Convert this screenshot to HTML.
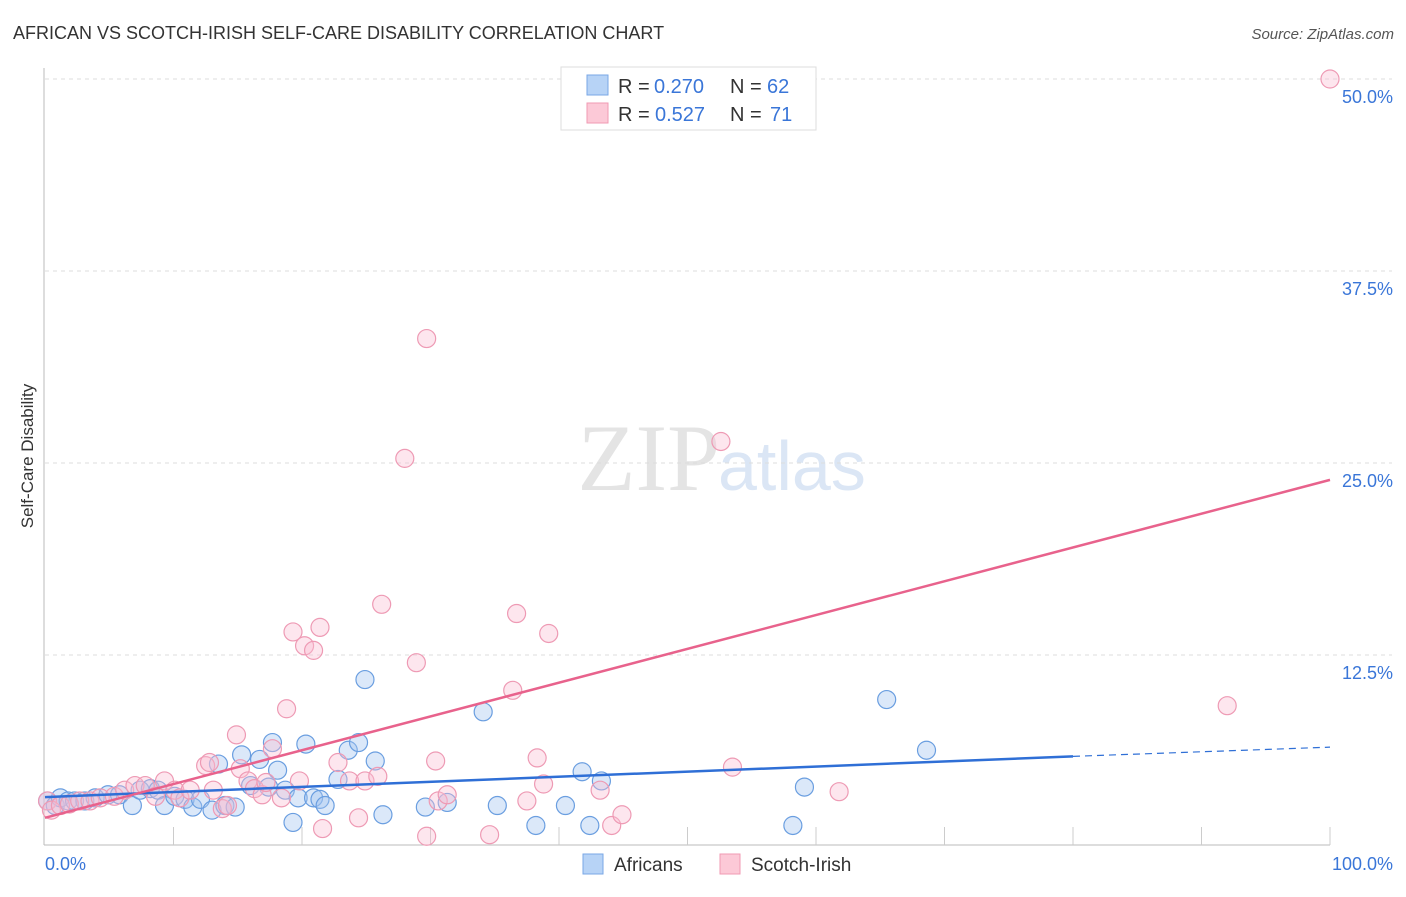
<!DOCTYPE html>
<html><head><meta charset="utf-8"><style>
body{margin:0;background:#fff;font-family:"Liberation Sans",sans-serif;}
svg text{font-family:"Liberation Sans",sans-serif;}
</style></head><body>
<svg id="chart" width="1406" height="892" xmlns="http://www.w3.org/2000/svg">
<text x="13" y="39" font-size="18" fill="#333">AFRICAN VS SCOTCH-IRISH SELF-CARE DISABILITY CORRELATION CHART</text>
<text x="1394" y="39" font-size="15" fill="#555" font-style="italic" text-anchor="end">Source: ZipAtlas.com</text>
<text x="33" y="456" font-size="17" fill="#333" text-anchor="middle" transform="rotate(-90 33 456)">Self-Care Disability</text>
<text x="720" y="490" font-size="95" fill="#e4e4e4" text-anchor="end" style="font-family:'Liberation Serif',serif">ZIP</text>
<text x="718" y="490" font-size="70" fill="#dbe6f5">atlas</text>
<g id="grid"></g><g id="axes"></g><g id="pts"></g><g id="lines"></g>
<g>
<rect x="561" y="67" width="255" height="63" fill="#fff" stroke="#ddd"/>
<rect x="587" y="75" width="21" height="20" fill="#b7d3f6" stroke="#7aa7e6"/>
<rect x="587" y="103" width="21" height="20" fill="#fcc9d7" stroke="#f09ab3"/>
<text x="618" y="93" font-size="20" fill="#333">R =</text>
<text x="654" y="93" font-size="20" fill="#3a76d8">0.270</text>
<text x="730" y="93" font-size="20" fill="#333">N =</text>
<text x="767" y="93" font-size="20" fill="#3a76d8">62</text>
<text x="618" y="121" font-size="20" fill="#333">R =</text>
<text x="655" y="121" font-size="20" fill="#3a76d8">0.527</text>
<text x="730" y="121" font-size="20" fill="#333">N =</text>
<text x="770" y="121" font-size="20" fill="#3a76d8">71</text>
</g>
<g>
<rect x="583" y="854" width="20" height="20" fill="#b7d3f6" stroke="#7aa7e6"/>
<text x="614" y="871" font-size="19" fill="#333">Africans</text>
<rect x="720" y="854" width="20" height="20" fill="#fcc9d7" stroke="#f09ab3"/>
<text x="751" y="871" font-size="19" fill="#333">Scotch-Irish</text>
</g>
</svg>
<script>
const yTicks=[12.5,25.0,37.5,50.0];
const xTickLabels=["0.0%","100.0%"];
const africansX=[0.2,0.8,1.2,1.8,2.3,3.1,3.9,4.9,5.8,6.8,7.4,8.2,8.8,9.3,10.1,10.9,11.5,12.1,13.0,13.5,14.0,14.8,15.3,16.0,16.7,17.4,17.7,18.1,18.7,19.3,19.7,20.3,20.9,21.4,21.8,22.8,23.6,24.4,24.9,25.7,26.3,29.6,31.3,34.1,35.2,38.2,40.5,41.8,42.4,43.3,58.2,59.1,65.5,68.6];
const africansY=[3.0,2.7,3.2,3.0,3.0,3.0,3.2,3.4,3.4,2.7,3.7,3.8,3.7,2.7,3.3,3.1,2.6,3.1,2.4,5.4,2.7,2.6,6.0,4.0,5.7,3.9,6.8,5.0,3.7,1.6,3.2,6.7,3.2,3.1,2.7,4.4,6.3,6.8,10.9,5.6,2.1,2.6,2.9,8.8,2.7,1.4,2.7,4.9,1.4,4.3,1.4,3.9,9.6,6.3];
const scotchX=[0.2,0.5,1.2,1.9,2.7,3.5,4.3,5.4,6.2,7.0,7.8,8.6,9.3,10.1,10.5,11.3,12.5,12.8,13.1,13.8,14.2,14.9,15.2,15.8,16.3,16.9,17.2,17.7,18.4,18.8,19.3,19.8,20.2,20.9,21.4,21.6,22.8,23.7,24.4,24.9,25.9,26.2,28.0,28.9,29.7,29.7,30.4,30.6,31.3,34.6,36.4,36.7,37.5,38.3,38.8,39.2,43.2,44.1,44.9,52.6,53.5,61.8,92.0,100.0];
const scotchY=[3.0,2.4,2.7,2.8,3.0,3.0,3.2,3.3,3.7,4.0,4.0,3.3,4.3,3.7,3.2,3.7,5.3,5.5,3.7,2.5,2.7,7.3,5.1,4.3,3.8,3.4,4.2,6.4,3.2,9.0,14.0,4.3,13.1,12.8,14.3,1.2,5.5,4.3,1.9,4.3,4.6,15.8,25.3,12.0,0.7,33.1,5.6,3.0,3.4,0.8,10.2,15.2,3.0,5.8,4.1,13.9,3.7,1.4,2.1,26.4,5.2,3.6,9.2,50.0];
const blueTrend=[[0,3.25],[80,5.9],[100,6.5]];
const pinkTrend=[[0,1.9],[100,23.9]];
const X=v=>45+v*12.85, Y=v=>847-v*15.36;
const NS="http://www.w3.org/2000/svg";
function mk(t,a,p){const e=document.createElementNS(NS,t);for(const k in a)e.setAttribute(k,a[k]);document.getElementById(p).appendChild(e);return e;}
yTicks.forEach(t=>{
 const g=mk('line',{x1:45,x2:1392,y1:Y(t),y2:Y(t),stroke:'#ddd','stroke-dasharray':'4,4'},'grid');
 
 
 const l=mk('text',{x:1393,y:Y(t)+24,'font-size':18,fill:'#3a76d8','text-anchor':'end'},'axes');
 l.textContent=t.toFixed(1)+'%';
 
 
});
mk('line',{x1:44,x2:44,y1:68,y2:845,stroke:'#bbb'},'axes');
mk('line',{x1:44,x2:1330,y1:845,y2:845,stroke:'#bbb'},'axes');
for(let i=1;i<=10;i++){mk('line',{x1:X(i*10),x2:X(i*10),y1:827,y2:845,stroke:'#ccc'},'axes');}
const x0=mk('text',{x:45,y:870,'font-size':18,fill:'#3a76d8'},'axes');x0.textContent=xTickLabels[0];


const x1=mk('text',{x:1393,y:870,'font-size':18,fill:'#3a76d8','text-anchor':'end'},'axes');x1.textContent=xTickLabels[1];


africansX.forEach((v,i)=>{const c=mk('circle',{cx:X(v),cy:Y(africansY[i]),r:9,fill:'rgba(160,195,240,0.38)',stroke:'#6a9ee0','stroke-width':1.2},'pts');
 
 });
scotchX.forEach((v,i)=>{const c=mk('circle',{cx:X(v),cy:Y(scotchY[i]),r:9,fill:'rgba(250,190,210,0.38)',stroke:'#ee9ab4','stroke-width':1.2},'pts');
 
 });
const b1=mk('line',{x1:X(blueTrend[0][0]),y1:Y(blueTrend[0][1]),x2:X(blueTrend[1][0]),y2:Y(blueTrend[1][1]),stroke:'#2f6fd6','stroke-width':2.5},'lines');


const b2=mk('line',{x1:X(blueTrend[1][0]),y1:Y(blueTrend[1][1]),x2:X(blueTrend[2][0]),y2:Y(blueTrend[2][1]),stroke:'#2f6fd6','stroke-width':1.2,'stroke-dasharray':'7,5'},'lines');


const p1=mk('line',{x1:X(pinkTrend[0][0]),y1:Y(pinkTrend[0][1]),x2:X(pinkTrend[1][0]),y2:Y(pinkTrend[1][1]),stroke:'#e8628c','stroke-width':2.5},'lines');


</script>
</body></html>
